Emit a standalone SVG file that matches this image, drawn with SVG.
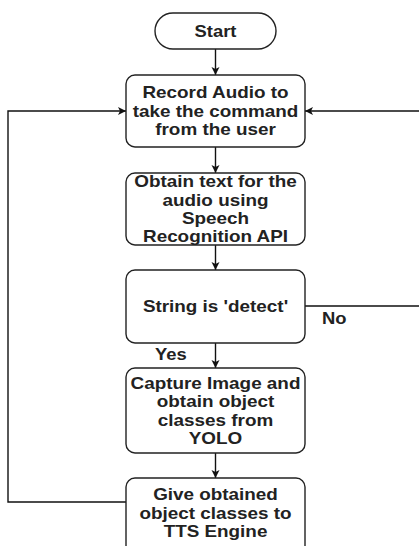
<svg xmlns="http://www.w3.org/2000/svg" width="419" height="546" viewBox="0 0 419 546">
  <defs>
    <marker id="arrow" markerWidth="10" markerHeight="10" refX="9" refY="5" orient="auto" markerUnits="userSpaceOnUse">
      <path d="M1,1 L9,5 L1,9 L3,5 Z" fill="#111"/>
    </marker>
    <style>
      .shape { fill: #ffffff; stroke: #222; stroke-width: 1.4; }
      .edge { fill: none; stroke: #111; stroke-width: 1.4; }
      .label { font-family: "Liberation Sans", Arial, sans-serif; font-size: 16px; font-weight: bold; fill: #222; text-anchor: middle; }
      .side { font-family: "Liberation Sans", Arial, sans-serif; font-size: 16px; font-weight: bold; fill: #222; }
    </style>
  </defs>
  <rect width="419" height="546" fill="#ffffff"/>

  <!-- connectors -->
  <g id="connectors">
    <line class="edge" x1="215.5" y1="49" x2="215.5" y2="75" marker-end="url(#arrow)"/>
    <line class="edge" x1="215.5" y1="147" x2="215.5" y2="173" marker-end="url(#arrow)"/>
    <line class="edge" x1="215.5" y1="245" x2="215.5" y2="270" marker-end="url(#arrow)"/>
    <line class="edge" x1="215.5" y1="343" x2="215.5" y2="368" marker-end="url(#arrow)"/>
    <line class="edge" x1="215.5" y1="453" x2="215.5" y2="478" marker-end="url(#arrow)"/>
    <!-- "No" branch back to recording -->
    <path class="edge" d="M305,306 H422 V111 H305" marker-end="url(#arrow)"/>
    <!-- loop back after speaking -->
    <path class="edge" d="M126,502 H8 V111 H126" marker-end="url(#arrow)"/>
    <text class="side" x="322" y="324" transform="translate(322,0) scale(1.15,1) translate(-322,0)">No</text>
    <text class="side" x="155" y="360" transform="translate(155,0) scale(1.15,1) translate(-155,0)">Yes</text>
  </g>

  <g id="start">
    <rect class="shape" x="155" y="13" width="121" height="36" rx="18" ry="18"/>
    <text class="label" transform="translate(215.5,0) scale(1.15,1)" x="0" y="37">Start</text>
  </g>

  <g id="record">
    <rect class="shape" x="126" y="75" width="179" height="72" rx="9" ry="9"/>
    <g transform="translate(215.5,0) scale(1.18,1)">
      <text class="label" x="0" y="98">Record Audio to</text>
      <text class="label" x="0" y="117">take the command</text>
      <text class="label" x="0" y="135">from the user</text>
    </g>
  </g>

  <g id="recognize">
    <rect class="shape" x="126" y="173" width="179" height="72" rx="9" ry="9"/>
    <g transform="translate(215.5,0) scale(1.18,1)">
      <text class="label" x="0" y="187">Obtain text for the</text>
      <text class="label" x="0" y="206">audio using</text>
      <text class="label" x="0" y="224">Speech</text>
      <text class="label" x="0" y="242">Recognition API</text>
    </g>
  </g>

  <g id="check">
    <rect class="shape" x="126" y="270" width="179" height="73" rx="9" ry="9"/>
    <g transform="translate(215.5,0) scale(1.18,1)">
      <text class="label" x="0" y="312">String is 'detect'</text>
    </g>
  </g>

  <g id="capture">
    <rect class="shape" x="126" y="368" width="179" height="85" rx="9" ry="9"/>
    <g transform="translate(215.5,0) scale(1.18,1)">
      <text class="label" x="0" y="389">Capture Image and</text>
      <text class="label" x="0" y="407">obtain object</text>
      <text class="label" x="0" y="426">classes from</text>
      <text class="label" x="0" y="444">YOLO</text>
    </g>
  </g>

  <g id="speak">
    <rect class="shape" x="126" y="478" width="179" height="85" rx="9" ry="9"/>
    <g transform="translate(215.5,0) scale(1.18,1)">
      <text class="label" x="0" y="500">Give obtained</text>
      <text class="label" x="0" y="519">object classes to</text>
      <text class="label" x="0" y="537">TTS Engine</text>
    </g>
  </g>
</svg>
